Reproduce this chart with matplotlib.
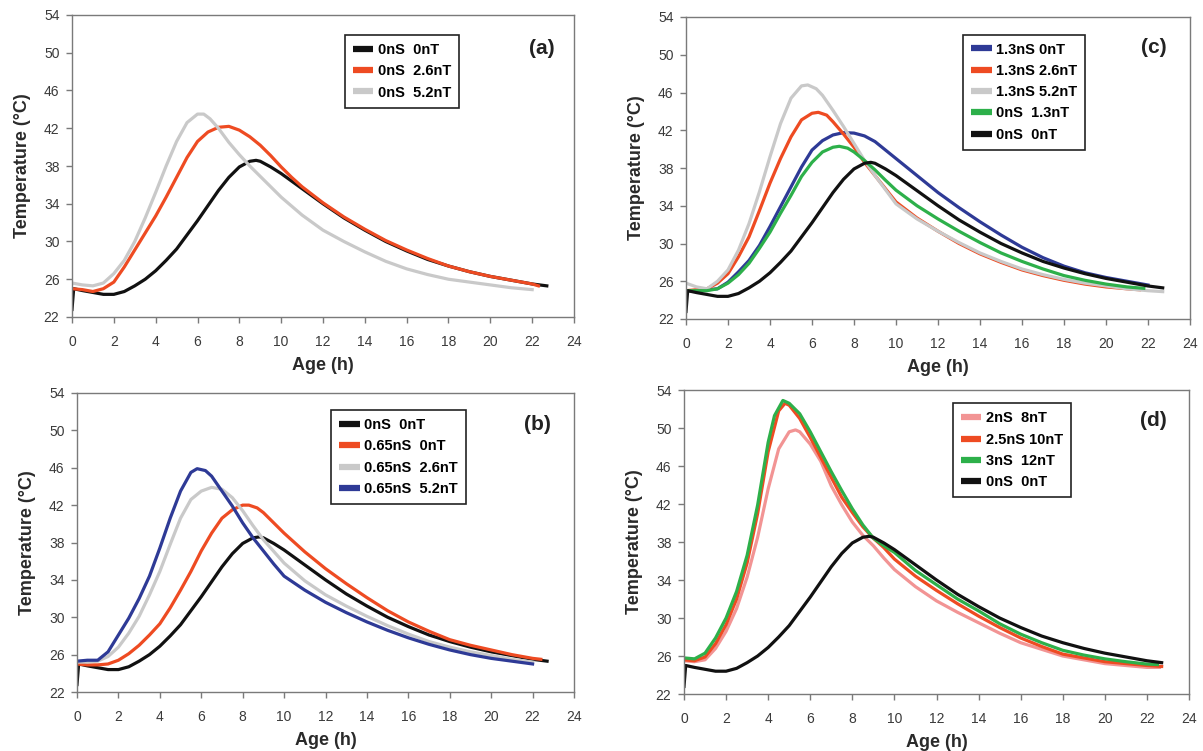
import matplotlib
matplotlib.use("Agg")
import matplotlib.pyplot as plt
from matplotlib.lines import Line2D

plt.rcParams['font.family'] = ['Liberation Sans', 'DejaVu Sans']

# ---------------- data ----------------
# reference mix 0nS 0nT (same in all panels)
t_ref = [0, 0.08, 0.5, 1, 1.5, 2, 2.5, 3, 3.5, 4, 4.5, 5, 5.5, 6, 6.5, 7, 7.5, 8, 8.5, 8.8,
         9, 9.5, 10, 10.5, 11, 11.5, 12, 13, 14, 15, 16, 17, 18, 19, 20, 21, 22, 22.7]
y_ref = [22.8, 25.0, 24.8, 24.6, 24.4, 24.4, 24.7, 25.3, 26.0, 26.9, 28.0, 29.2, 30.7, 32.2, 33.8,
         35.4, 36.8, 37.9, 38.5, 38.6, 38.5, 37.9, 37.2, 36.4, 35.6, 34.8, 34.0, 32.5, 31.2, 30.0,
         29.0, 28.1, 27.4, 26.8, 26.3, 25.9, 25.5, 25.3]

# panel (a)
t_a_26 = [0, 0.5, 1, 1.5, 2, 2.5, 3, 3.5, 4, 4.5, 5, 5.5, 6, 6.5, 7, 7.5, 8, 8.5, 9, 9.5, 10,
          10.5, 11, 12, 13, 14, 15, 16, 17, 18, 19, 20, 21, 22, 22.3]
y_a_26 = [25.0, 24.9, 24.7, 25.0, 25.7, 27.3, 29.1, 30.9, 32.7, 34.7, 36.8, 38.9, 40.6, 41.6,
          42.1, 42.2, 41.8, 41.1, 40.2, 39.1, 37.9, 36.8, 35.8, 34.1, 32.6, 31.3, 30.1, 29.1,
          28.2, 27.4, 26.8, 26.3, 25.9, 25.5, 25.3]
t_a_52 = [0, 0.5, 1, 1.5, 2, 2.5, 3, 3.5, 4, 4.5, 5, 5.5, 6, 6.3, 6.6, 7, 7.5, 8, 8.5, 9, 9.5,
          10, 11, 12, 13, 14, 15, 16, 17, 18, 19, 20, 21, 22]
y_a_52 = [25.6, 25.4, 25.3, 25.6, 26.6, 28.0, 30.0, 32.5, 35.2, 38.0, 40.6, 42.6, 43.5, 43.5,
          43.0, 42.0, 40.5, 39.2, 38.0, 36.9, 35.8, 34.7, 32.8, 31.2, 30.0, 28.9, 27.9, 27.1,
          26.5, 26.0, 25.7, 25.4, 25.1, 24.9]

# panel (b)
t_b_065_0 = [0, 0.5, 1, 1.5, 2, 2.5, 3, 3.5, 4, 4.5, 5, 5.5, 6, 6.5, 7, 7.5, 8, 8.3, 8.7, 9,
             9.5, 10, 11, 12, 13, 14, 15, 16, 17, 18, 19, 20, 21, 22, 22.4]
y_b_065_0 = [25.0, 24.9, 24.9, 25.0, 25.4, 26.1, 27.0, 28.1, 29.3, 31.0, 32.9, 34.9, 37.1, 39.0,
             40.6, 41.5, 42.0, 42.0, 41.7, 41.2, 40.1, 39.0, 37.0, 35.2, 33.6, 32.1, 30.7,
             29.5, 28.5, 27.6, 27.0, 26.5, 26.0, 25.6, 25.5]
t_b_065_26 = [0, 0.5, 1, 1.5, 2, 2.5, 3, 3.5, 4, 4.5, 5, 5.5, 6, 6.5, 7, 7.5, 8, 8.5, 9, 10,
              11, 12, 13, 14, 15, 16, 17, 18, 19, 20, 21, 22]
y_b_065_26 = [25.2, 25.2, 25.3, 25.8, 26.8, 28.3, 30.1, 32.4, 34.9, 37.8, 40.6, 42.6, 43.5,
              43.9, 43.7, 42.8, 41.4, 39.8, 38.3, 35.8, 33.9, 32.4, 31.2, 30.1, 29.1, 28.2,
              27.4, 26.8, 26.3, 25.9, 25.5, 25.2]
t_b_065_52 = [0, 0.5, 1, 1.5, 2, 2.5, 3, 3.5, 4, 4.5, 5, 5.5, 5.8, 6.2, 6.5, 7, 7.5, 8, 8.5, 9,
              9.5, 10, 11, 12, 13, 14, 15, 16, 17, 18, 19, 20, 21, 22]
y_b_065_52 = [25.3, 25.4, 25.4, 26.3, 28.1, 29.9, 32.0, 34.4, 37.4, 40.6, 43.5, 45.5, 45.9,
              45.7, 45.1, 43.5, 41.9, 40.1, 38.5, 37.1, 35.7, 34.4, 32.9, 31.6, 30.5, 29.5,
              28.6, 27.8, 27.1, 26.5, 26.0, 25.6, 25.3, 25.0]

# panel (c)
t_c_13_0 = [0, 0.5, 1, 1.5, 2, 2.5, 3, 3.5, 4, 4.5, 5, 5.5, 6, 6.5, 7, 7.5, 8, 8.5, 9, 9.5, 10,
            11, 12, 13, 14, 15, 16, 17, 18, 19, 20, 21, 22]
y_c_13_0 = [25.0, 25.0, 25.1, 25.2, 25.9, 27.0, 28.2, 29.8, 31.8, 33.9, 36.0, 38.1, 39.9, 40.9,
            41.5, 41.75, 41.7, 41.4, 40.8, 39.9, 39.0, 37.2, 35.4, 33.8, 32.3, 30.9, 29.6,
            28.5, 27.6, 26.9, 26.4, 26.0, 25.6]
t_c_13_26 = [0, 0.5, 1, 1.5, 2, 2.5, 3, 3.5, 4, 4.5, 5, 5.5, 6, 6.3, 6.7, 7, 7.5, 8, 8.5, 9,
             9.5, 10, 11, 12, 13, 14, 15, 16, 17, 18, 19, 20, 21, 21.6]
y_c_13_26 = [25.0, 25.1, 25.2, 25.8, 26.8, 28.6, 30.7, 33.5, 36.4, 39.0, 41.3, 43.1, 43.8, 43.9,
             43.6, 42.9, 41.6, 40.2, 38.6, 37.2, 35.8, 34.4, 32.7, 31.3, 30.0, 28.9, 28.0,
             27.2, 26.6, 26.1, 25.7, 25.4, 25.2, 25.1]
t_c_13_52 = [0, 0.5, 1, 1.5, 2, 2.5, 3, 3.5, 4, 4.5, 5, 5.5, 5.8, 6.2, 6.5, 7, 7.5, 8, 8.5, 9,
             9.5, 10, 11, 12, 13, 14, 15, 16, 17, 18, 19, 20, 21, 22, 22.7]
y_c_13_52 = [25.8, 25.4, 25.2, 26.0, 27.2, 29.3, 32.1, 35.5, 39.2, 42.7, 45.4, 46.7, 46.8, 46.4,
             45.7, 44.1, 42.4, 40.6, 38.8, 37.2, 35.7, 34.2, 32.6, 31.3, 30.1, 29.0, 28.1,
             27.3, 26.7, 26.2, 25.8, 25.5, 25.2, 25.0, 24.9]
t_c_0_13 = [0, 0.5, 1, 1.5, 2, 2.5, 3, 3.5, 4, 4.5, 5, 5.5, 6, 6.5, 7, 7.3, 7.7, 8, 8.5, 9, 9.5,
            10, 11, 12, 13, 14, 15, 16, 17, 18, 19, 20, 21, 21.8]
y_c_0_13 = [25.0, 25.0, 25.0, 25.2, 25.8, 26.7, 27.9, 29.5, 31.2, 33.2, 35.1, 37.1, 38.6, 39.7,
            40.2, 40.3, 40.1, 39.7, 38.8, 37.8, 36.7, 35.65, 34.0, 32.6, 31.3, 30.1, 29.0,
            28.1, 27.3, 26.6, 26.1, 25.7, 25.4, 25.25]

# panel (d)
t_d_2_8 = [0, 0.5, 1, 1.5, 2, 2.5, 3, 3.5, 4, 4.5, 5, 5.3, 5.5, 6, 6.5, 7, 7.5, 8, 8.5, 9, 9.5,
           10, 11, 12, 13, 14, 15, 16, 17, 18, 19, 20, 21, 22, 22.6]
y_d_2_8 = [25.5, 25.4, 25.6, 26.8, 28.6, 31.0, 34.3, 38.5, 43.6, 47.8, 49.6, 49.8, 49.6, 48.3,
           46.5, 43.9, 41.9, 40.1, 38.7, 37.6, 36.3, 35.1, 33.3, 31.8, 30.6, 29.5, 28.4, 27.4,
           26.7, 26.0, 25.6, 25.2, 25.0, 24.8, 24.8]
t_d_25_10 = [0, 0.5, 1, 1.5, 2, 2.5, 3, 3.5, 4, 4.5, 4.8, 5, 5.5, 6, 6.5, 7, 7.5, 8, 8.5, 9,
             9.5, 10, 11, 12, 13, 14, 15, 16, 17, 18, 19, 20, 21, 22, 22.7]
y_d_25_10 = [25.6, 25.5, 25.9, 27.3, 29.3, 32.0, 35.8, 41.0, 47.5, 51.8, 52.6, 52.4, 51.0,
             49.0, 46.9, 44.8, 42.7, 41.1, 39.6, 38.4, 37.4, 36.2, 34.4, 32.9, 31.5, 30.2,
             29.0, 27.9, 27.0, 26.2, 25.8, 25.4, 25.2, 25.0, 24.9]
t_d_3_12 = [0, 0.5, 1, 1.5, 2, 2.5, 3, 3.5, 4, 4.3, 4.7, 5, 5.5, 6, 6.5, 7, 7.5, 8, 8.5, 9, 9.5,
            10, 11, 12, 13, 14, 15, 16, 17, 18, 19, 20, 21, 22, 22.5]
y_d_3_12 = [25.8, 25.7, 26.3, 27.9, 30.0, 32.8, 36.6, 41.9, 48.5, 51.3, 52.9, 52.6, 51.5, 49.6,
            47.5, 45.4, 43.4, 41.5, 39.8, 38.4, 37.6, 36.9, 35.0, 33.5, 32.0, 30.75, 29.4,
            28.3, 27.4, 26.6, 26.1, 25.7, 25.4, 25.15, 25.1]

# ---------------- styling ----------------
BLACK = '#111111'
RED = '#EE4B22'
GRAY = '#C9C9C9'
BLUE = '#2E3A96'
GREEN = '#2DB04A'
PINK = '#F29494'

fig = plt.figure(figsize=(12.03, 7.51), dpi=100)


def make_axes(rect):
    ax = fig.add_axes(rect)
    ax.set_xlim(0, 24)
    ax.set_ylim(22, 54)
    ax.set_xticks(range(0, 25, 2))
    ax.set_yticks(range(22, 55, 4))
    for s in ax.spines.values():
        s.set_color('#7a7a7a')
        s.set_linewidth(1.0)
    ax.tick_params(direction='out', length=4, width=1, color='#7a7a7a',
                   labelsize=10, labelcolor='#3a3a3a')
    ax.tick_params(axis='x', pad=9)
    ax.tick_params(axis='y', pad=5)
    ax.set_xlabel('Age (h)', fontsize=13, fontweight='bold', color='#2a2a2a', labelpad=6)
    ax.set_ylabel('Temperature (°C)', fontsize=13, fontweight='bold', color='#2a2a2a',
                  labelpad=9)
    return ax


def finish(ax, series, leg_xy, label, lab_xy):
    handles = []
    for t, y, c, name in series:
        ax.plot(t, y, color=c, lw=2.3, solid_joinstyle='round')
        handles.append(Line2D([0], [0], color=c, lw=4.5, solid_capstyle='butt'))
    leg = ax.legend(handles, [s[3] for s in series], loc='upper right',
                    bbox_to_anchor=leg_xy, borderaxespad=0, fancybox=False,
                    edgecolor='#222222', framealpha=1, handlelength=1.4,
                    handletextpad=0.3, labelspacing=0.5, borderpad=0.55,
                    prop={'weight': 'bold', 'size': 10.5})
    leg.get_frame().set_linewidth(1.2)
    ax.text(lab_xy[0], lab_xy[1], label, transform=ax.transAxes, fontsize=15,
            fontweight='bold', ha='center', va='center', color='#222222')


W, H = 1203.0, 751.0


def rect(x0, x1, y0, y1):
    return [x0 / W, 1 - y1 / H, (x1 - x0) / W, (y1 - y0) / H]


ax_a = make_axes(rect(72, 574, 15, 317))
finish(ax_a, [
    (t_ref, y_ref, BLACK, '0nS  0nT'),
    (t_a_26, y_a_26, RED, '0nS  2.6nT'),
    (t_a_52, y_a_52, GRAY, '0nS  5.2nT'),
], (0.771, 0.934), '(a)', (0.936, 0.89))

ax_c = make_axes(rect(686, 1190, 17, 319))
finish(ax_c, [
    (t_c_13_0, y_c_13_0, BLUE, '1.3nS 0nT'),
    (t_c_13_26, y_c_13_26, RED, '1.3nS 2.6nT'),
    (t_c_13_52, y_c_13_52, GRAY, '1.3nS 5.2nT'),
    (t_c_0_13, y_c_0_13, GREEN, '0nS  1.3nT'),
    (t_ref, y_ref, BLACK, '0nS  0nT'),
], (0.792, 0.942), '(c)', (0.929, 0.90))

ax_b = make_axes(rect(77, 574, 393, 692))
finish(ax_b, [
    (t_ref, y_ref, BLACK, '0nS  0nT'),
    (t_b_065_0, y_b_065_0, RED, '0.65nS  0nT'),
    (t_b_065_26, y_b_065_26, GRAY, '0.65nS  2.6nT'),
    (t_b_065_52, y_b_065_52, BLUE, '0.65nS  5.2nT'),
], (0.782, 0.943), '(b)', (0.927, 0.896))

ax_d = make_axes(rect(684, 1189, 390, 694))
finish(ax_d, [
    (t_d_2_8, y_d_2_8, PINK, '2nS  8nT'),
    (t_d_25_10, y_d_25_10, RED, '2.5nS 10nT'),
    (t_d_3_12, y_d_3_12, GREEN, '3nS  12nT'),
    (t_ref, y_ref, BLACK, '0nS  0nT'),
], (0.766, 0.956), '(d)', (0.929, 0.90))

fig.savefig('out.png', dpi=100)
